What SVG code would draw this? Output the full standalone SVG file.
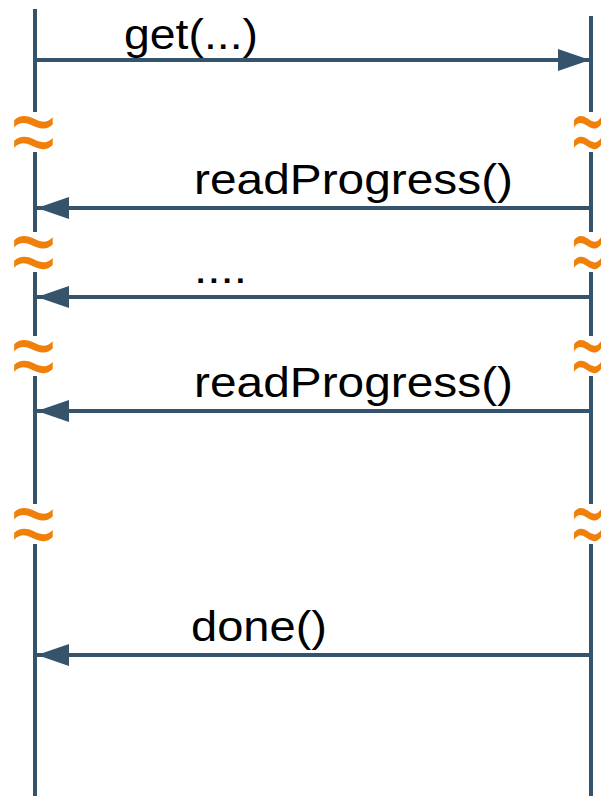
<svg xmlns="http://www.w3.org/2000/svg" width="602" height="796" viewBox="0 0 602 796">
<style>
.life{stroke:#35536a;stroke-width:4;fill:none}
.msg{stroke:#35536a;stroke-width:4;fill:none;marker-end:url(#ah)}
.lbl{font-family:"Liberation Sans",Arial,sans-serif;font-size:42px;fill:#000}
.brk{fill:#fff}
.sq{font-family:"Liberation Sans",Arial,sans-serif;font-size:78px;fill:#f0800a}
</style>
<defs>
<marker id="ah" markerUnits="userSpaceOnUse" markerWidth="33" markerHeight="23" refX="32" refY="11" orient="auto">
<path d="M0,0 L32,11 L0,22 z" fill="#35536a"/>
</marker>
</defs>
<g id="lifeline-left"><line class="life" x1="35" y1="9" x2="35" y2="796"/></g>
<g id="lifeline-right"><line class="life" x1="591" y1="16" x2="591" y2="796"/></g>
<g id="connectors">
<line class="msg" x1="37" y1="60" x2="590" y2="60"/>
<line class="msg" x1="589" y1="208" x2="37" y2="208"/>
<line class="msg" x1="589" y1="297" x2="37" y2="297"/>
<line class="msg" x1="589" y1="411" x2="37" y2="411"/>
<line class="msg" x1="589" y1="655" x2="37" y2="655"/>
</g>
<g id="labels">
<text class="lbl" x="124" y="49" textLength="134" lengthAdjust="spacingAndGlyphs">get(...)</text>
<text class="lbl" x="194" y="194" textLength="319" lengthAdjust="spacingAndGlyphs">readProgress()</text>
<text class="lbl" x="194" y="283" textLength="53" lengthAdjust="spacingAndGlyphs">....</text>
<text class="lbl" x="194" y="397" textLength="319" lengthAdjust="spacingAndGlyphs">readProgress()</text>
<text class="lbl" x="191" y="641" textLength="136" lengthAdjust="spacingAndGlyphs">done()</text>
</g>
<g id="breaks">
<rect class="brk" x="14" y="112" width="39" height="40"/>
<text class="sq" transform="translate(33.5,166) scale(1,1.3)" text-anchor="middle">≈</text>
<rect class="brk" x="574" y="112" width="28" height="40"/>
<text class="sq" transform="translate(587.5,166) scale(0.7,1.3)" text-anchor="middle">≈</text>
<rect class="brk" x="14" y="232" width="39" height="40"/>
<text class="sq" transform="translate(33.5,286) scale(1,1.3)" text-anchor="middle">≈</text>
<rect class="brk" x="574" y="232" width="28" height="40"/>
<text class="sq" transform="translate(587.5,286) scale(0.7,1.3)" text-anchor="middle">≈</text>
<rect class="brk" x="14" y="336" width="39" height="40"/>
<text class="sq" transform="translate(33.5,390) scale(1,1.3)" text-anchor="middle">≈</text>
<rect class="brk" x="574" y="336" width="28" height="40"/>
<text class="sq" transform="translate(587.5,390) scale(0.7,1.3)" text-anchor="middle">≈</text>
<rect class="brk" x="14" y="504" width="39" height="40"/>
<text class="sq" transform="translate(33.5,558) scale(1,1.3)" text-anchor="middle">≈</text>
<rect class="brk" x="574" y="504" width="28" height="40"/>
<text class="sq" transform="translate(587.5,558) scale(0.7,1.3)" text-anchor="middle">≈</text>
</g>
</svg>
